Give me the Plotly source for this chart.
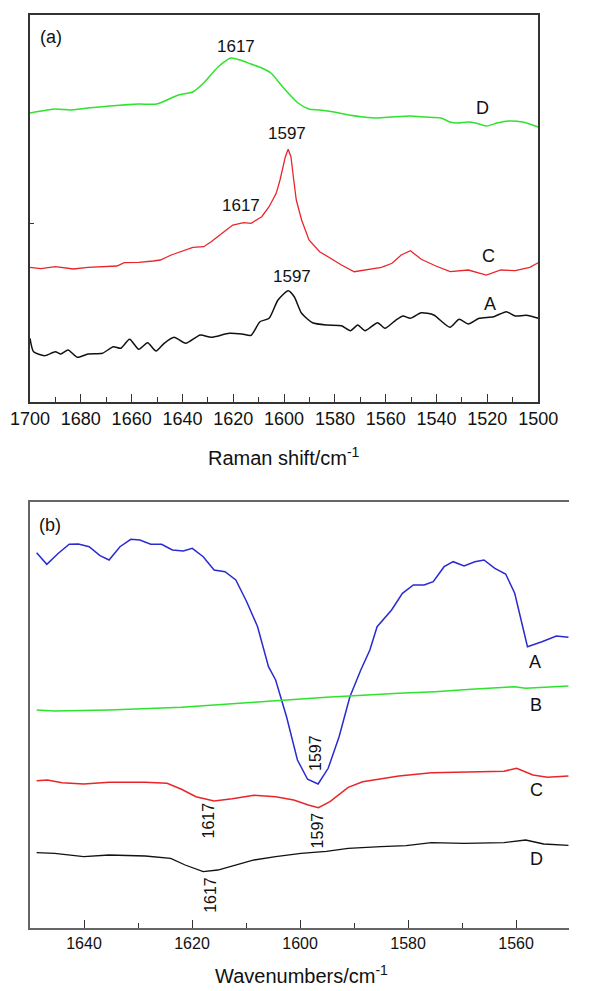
import plotly.graph_objects as go

# ---------------- Panel (a): Raman spectra ----------------
raman_D_x = [1700, 1690.0, 1684.3, 1677.2, 1668.6, 1657.2, 1650.1, 1641.6, 1635.9, 1631.7, 1626.0, 1620.9,
             1617.3, 1613.1, 1608.8, 1605.2, 1600.2, 1594.5, 1590.3, 1586.0, 1580.3, 1574.5, 1568.8, 1563.2,
             1557.5, 1550.3, 1544.6, 1538.2, 1534.7, 1531.8, 1527.5, 1524.7, 1520.4, 1516.1, 1511.8, 1506.1, 1500]
raman_D_y = [289, 293, 292, 294, 296, 298, 298, 307, 310, 319, 335, 344, 342, 338, 334, 329, 314, 299, 293,
             292, 290, 287, 285, 284, 285, 286, 285, 284, 280, 279, 280, 279, 276, 279, 281, 280, 275]

raman_C_x = [1700.0, 1695.7, 1690.0, 1682.9, 1677.2, 1671.5, 1665.8, 1662.9, 1657.2, 1651.5, 1648.7, 1644.4,
             1640.1, 1635.9, 1631.6, 1628.7, 1624.4, 1620.2, 1615.9, 1613.0, 1608.8, 1605.9, 1604.5, 1603.1,
             1601.6, 1599.5, 1598.4, 1597.3, 1596.2, 1595.2, 1593.1, 1590.2, 1586.0, 1581.7, 1577.4, 1572.4,
             1567.4, 1561.7, 1557.5, 1553.9, 1550.3, 1546.0, 1540.3, 1534.6, 1527.5, 1520.4, 1514.7, 1509.0,
             1503.3, 1500.0]
raman_C_y = [134.7, 133.3, 135.3, 133, 134.7, 135.3, 136, 139.3, 139.7, 141, 142, 147, 151.3, 154.7, 155.3,
             160.3, 168.7, 177, 179.3, 178.7, 185.3, 195.3, 202, 208.7, 222, 245.3, 252.7, 245.3, 222, 202,
             182, 162, 150.3, 143.7, 137, 130.3, 132.7, 134.7, 138.7, 147, 151.3, 142.7, 136, 130.3, 132,
             127, 132, 131.3, 134.7, 139.3]

raman_A_x = [1700, 1698.6, 1694.3, 1690.0, 1687.9, 1685.0, 1681.4, 1677.2, 1671.5, 1667.2, 1664.3, 1660.8,
             1657.2, 1653.7, 1650.4, 1647.2, 1643.3, 1638.7, 1633.0, 1628.7, 1621.6, 1616.6, 1613.0, 1609.5,
             1605.9, 1602.4, 1598.4, 1596.0, 1593.1, 1588.8, 1583.1, 1577.4, 1573.9, 1571.0, 1568.1, 1563.2,
             1560.3, 1556.0, 1553.2, 1550.3, 1546.0, 1541.1, 1534.7, 1531.1, 1527.5, 1523.2, 1517.5, 1512.5,
             1509.0, 1504.7, 1500]
raman_A_y = [63.7, 50.3, 46.3, 50.3, 48, 52, 44.7, 48, 48.7, 55.3, 53.7, 62.7, 52.7, 59.3, 51, 58.7, 64.7,
             58.7, 67, 64.7, 68.7, 68, 66.7, 80.3, 83.7, 102, 111.3, 105.3, 88.7, 79.3, 77, 76.3, 71.3, 77,
             71.3, 79.3, 73.7, 82, 86, 83.7, 89.3, 87, 74.7, 82.7, 78, 83.7, 85.3, 90.3, 86, 86.7, 83.7]

raman_ticks = [1700, 1680, 1660, 1640, 1620, 1600, 1580, 1560, 1540, 1520, 1500]

# ---------------- Panel (b): IR spectra ----------------
ir_A_x = [1648.77, 1646.89, 1644.75, 1642.73, 1641.05, 1639.05, 1637.04, 1635.36, 1633.34, 1631.34, 1629.66,
          1627.64, 1625.64, 1623.63, 1621.61, 1619.95, 1617.93, 1615.91, 1613.89, 1611.89, 1609.88, 1607.86,
          1605.84, 1604.52, 1602.5, 1600.48, 1598.61, 1596.66, 1594.79, 1592.77, 1590.77, 1588.75, 1587.07,
          1585.73, 1583.05, 1581.04, 1579.02, 1577.02, 1575.34, 1573.32, 1571.64, 1569.63, 1567.63, 1565.95,
          1563.93, 1561.93, 1560.25, 1557.89, 1555.21, 1552.54, 1550.3]
ir_A_y = [375.3, 363.7, 374.7, 383.7, 384, 381.3, 372.3, 368, 381.3, 388.7, 388, 383.7, 383.7, 378, 377,
          379.7, 371.3, 358, 356.3, 348, 326.3, 301.3, 261.3, 248, 211.3, 168, 148.7, 144, 159.7, 191.3,
          231.3, 258, 278, 301.3, 318, 334.7, 343, 343, 346.3, 361.3, 366.3, 362, 366.3, 368, 359.7, 354,
          334.7, 281.3, 286.3, 292, 290.7]

ir_B_x = [1648.77, 1645.43, 1635.36, 1621.95, 1608.52, 1595.13, 1581.7, 1575.0, 1568.29, 1560.25, 1558.23, 1550.3]
ir_B_y = [218, 217, 218, 220.7, 225.7, 230.7, 234.7, 236.3, 238.7, 241.3, 239.7, 242]

ir_C_x = [1648.77, 1646.77, 1644.07, 1640.05, 1635.36, 1628.66, 1624.63, 1621.95, 1619.27, 1615.91, 1612.55,
          1608.54, 1604.52, 1601.16, 1598.48, 1596.59, 1594.45, 1591.09, 1588.41, 1581.7, 1575.66, 1568.27,
          1562.23, 1559.89, 1556.88, 1554.2, 1550.3]
ir_C_y = [147.3, 148, 145.3, 144, 145.7, 145.7, 144.7, 138.7, 131.3, 127, 129.3, 132.7, 131.3, 128, 123,
          120.3, 126.3, 140.7, 146.3, 152, 155.3, 156, 156.7, 159.7, 153, 150.7, 152]

ir_D_x = [1648.77, 1645.43, 1640.05, 1635.36, 1628.66, 1623.96, 1621.27, 1617.93, 1615.23, 1611.89, 1608.52,
          1604.52, 1599.82, 1595.13, 1591.09, 1585.05, 1580.36, 1575.68, 1569.63, 1562.25, 1558.23, 1554.88, 1550.3]
ir_D_y = [75.3, 74.7, 71.3, 73, 72, 69.7, 63, 56.3, 58, 63, 68, 71.3, 74.7, 76.7, 79.7, 81.3, 82.3, 85.3,
          84.7, 85.3, 88, 84, 82.7]

ir_ticks = [1640, 1620, 1600, 1580, 1560]

GREEN = "#2ee22e"
RED = "#e8262a"
BLUE = "#2a2ad0"
BLACK = "#111111"
FONT = "Liberation Sans, Arial, sans-serif"

fig = go.Figure()

# panel (a)
fig.add_trace(go.Scatter(x=raman_D_x, y=raman_D_y, mode="lines", line=dict(color=GREEN, width=1.5, shape="spline", smoothing=0.6), xaxis="x", yaxis="y"))
fig.add_trace(go.Scatter(x=raman_C_x, y=raman_C_y, mode="lines", line=dict(color=RED, width=1.3), xaxis="x", yaxis="y"))
fig.add_trace(go.Scatter(x=raman_A_x, y=raman_A_y, mode="lines", line=dict(color=BLACK, width=1.5, shape="spline", smoothing=0.6), xaxis="x", yaxis="y"))

# panel (b)
fig.add_trace(go.Scatter(x=ir_A_x, y=ir_A_y, mode="lines", line=dict(color=BLUE, width=1.5), xaxis="x2", yaxis="y2"))
fig.add_trace(go.Scatter(x=ir_B_x, y=ir_B_y, mode="lines", line=dict(color=GREEN, width=1.5), xaxis="x2", yaxis="y2"))
fig.add_trace(go.Scatter(x=ir_C_x, y=ir_C_y, mode="lines", line=dict(color=RED, width=1.5), xaxis="x2", yaxis="y2"))
fig.add_trace(go.Scatter(x=ir_D_x, y=ir_D_y, mode="lines", line=dict(color=BLACK, width=1.3), xaxis="x2", yaxis="y2"))

ann = []
def lab(text, x, y, xref, yref, size=18, angle=0, yanchor="middle"):
    ann.append(dict(text=text, x=x, y=y, xref=xref, yref=yref, showarrow=False,
                    font=dict(family=FONT, size=size, color="#111"), textangle=angle,
                    xanchor="center", yanchor=yanchor))

lab("(a)", 0.042, 0.943, "x domain", "y domain")
lab("1617", 1618.8, 355.3, "x", "y", 17)
lab("D", 1521.8, 293.7, "x", "y")
lab("1597", 1598.8, 268.7, "x", "y", 17)
lab("1617", 1617.0, 197, "x", "y", 17)
lab("C", 1519.7, 146, "x", "y")
lab("1597", 1596.9, 125.3, "x", "y", 17)
lab("A", 1519, 98, "x", "y")

lab("(b)", 0.038, 0.946, "x2 domain", "y2 domain")
lab("A", 1556.55, 266.3, "x2", "y2")
lab("B", 1556.4, 223, "x2", "y2")
lab("C", 1556.2, 138, "x2", "y2")
lab("D", 1556.2, 69, "x2", "y2")
lab("1597", 1597.1, 174.7, "x2", "y2", 16, -90)
lab("1617", 1616.9, 107.3, "x2", "y2", 16, -90)
lab("1597", 1596.6, 98, "x2", "y2", 16, -90)
lab("1617", 1616.7, 33, "x2", "y2", 16, -90)

lab("Raman shift/cm<sup>-1</sup>", 0.4705, 0.5159, "paper", "paper", 20)
lab("Wavenumbers/cm<sup>-1</sup>", 0.504, -0.0665, "paper", "paper", 20, 0, "bottom")

AX_TOP = "#333333"
AX_BOT = "#666666"

fig.update_layout(
    width=589, height=991,
    margin=dict(l=30, r=0, t=15, b=63),
    paper_bgcolor="white", plot_bgcolor="white",
    showlegend=False,
    annotations=ann,
    xaxis=dict(domain=[0, 0.9428], range=[1700, 1500], tickvals=raman_ticks,
               ticks="inside", ticklen=8, tickwidth=1.3, tickcolor=AX_TOP,
               minor=dict(dtick=10, tick0=1500, ticks="inside", ticklen=5, tickwidth=1.2, tickcolor=AX_TOP),
               showline=True, linecolor=AX_TOP, linewidth=1.5, mirror=True,
               showgrid=False, zeroline=False, anchor="y",
               tickfont=dict(family=FONT, size=18, color="#111")),
    yaxis=dict(domain=[0.5761, 1], range=[0, 387], tickvals=[179], showticklabels=False,
               ticks="inside", ticklen=4, tickcolor=AX_TOP,
               showline=True, linecolor=AX_TOP, linewidth=1.5, mirror=True,
               showgrid=False, zeroline=False, anchor="x"),
    xaxis2=dict(domain=[0, 1], range=[1650, 1550.2], tickvals=ir_ticks,
                ticks="inside", ticklen=8, tickwidth=1.3, tickcolor="#333",
                minor=dict(dtick=10, tick0=1550, ticks="inside", ticklen=5, tickwidth=1.2, tickcolor="#333"),
                showline=True, linecolor=AX_BOT, linewidth=1.6, mirror=True,
                showgrid=False, zeroline=False, anchor="y2",
                tickfont=dict(family=FONT, size=16, color="#111")),
    yaxis2=dict(domain=[0, 0.4666], range=[0, 426], showticklabels=False, ticks="",
                showline=True, linecolor=AX_BOT, linewidth=1.6, mirror=False,
                showgrid=False, zeroline=False, anchor="x2"),
)

fig.write_html("out.html", config={"displayModeBar": False},
               post_script="document.body.style.margin='0';document.body.style.overflow='hidden';")
